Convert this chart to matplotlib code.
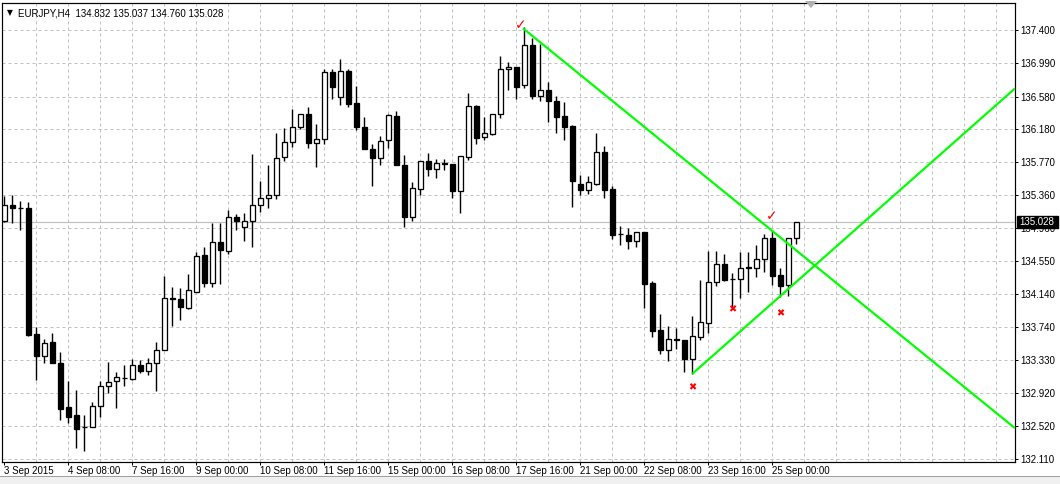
import matplotlib
matplotlib.use('Agg')
import matplotlib.pyplot as plt
from matplotlib.patches import Rectangle, Polygon
import numpy as np

# ---------------- data ----------------
opens = [135.05, 135.24, 135.21, 135.20, 133.65, 133.38, 133.55, 133.30, 132.75, 132.65,
         132.50, 132.50, 132.76, 133.01, 133.07, 133.11, 133.10, 133.27, 133.19, 133.30,
         133.46, 134.10, 134.08, 133.97, 134.17, 134.62, 134.28, 134.79, 134.68, 135.10,
         134.97, 135.04, 135.24, 135.33, 135.36, 135.83, 136.02, 136.21, 136.36, 136.01,
         136.05, 136.88, 136.58, 136.89, 136.50, 136.21, 135.93, 135.82, 136.04, 136.34,
         135.74, 135.10, 135.44, 135.79, 135.69, 135.75, 135.75, 135.41, 135.84, 136.46,
         136.08, 136.12, 136.36, 136.92, 136.94, 136.72, 137.21, 136.59, 136.66, 136.52,
         136.34, 136.22, 135.50, 135.43, 135.50, 135.89, 135.44, 134.88, 134.87, 134.80,
         134.91, 134.28, 133.70, 133.45, 133.58, 133.58, 133.34, 133.62, 133.79, 134.29,
         134.52, 134.33, 134.33, 134.47, 134.47, 134.58, 134.83, 134.38, 134.25, 134.832]
highs = [135.35, 135.37, 135.29, 135.28, 133.74, 133.59, 133.66, 133.43, 133.07, 132.96,
         132.65, 132.81, 133.07, 133.31, 133.18, 133.27, 133.34, 133.33, 133.36, 133.55,
         134.37, 134.23, 134.22, 134.39, 134.66, 134.72, 135.02, 135.02, 135.18, 135.13,
         135.14, 135.87, 135.54, 135.74, 136.13, 136.19, 136.43, 136.36, 136.45, 136.24,
         136.92, 136.92, 137.04, 136.92, 136.71, 136.33, 135.99, 136.09, 136.37, 136.40,
         135.86, 135.52, 135.79, 135.88, 135.81, 135.81, 135.75, 135.85, 136.62, 136.48,
         136.33, 136.36, 137.08, 137.00, 136.94, 137.44, 137.30, 137.23, 136.76, 136.59,
         136.51, 136.23, 135.61, 135.60, 136.13, 135.97, 135.48, 134.98, 134.96, 134.91,
         134.91, 134.31, 133.90, 133.75, 133.72, 133.58, 133.87, 134.32, 134.68, 134.68,
         134.64, 134.40, 134.66, 134.66, 134.75, 134.88, 134.94, 134.46, 134.84, 135.037]
lows = [135.03, 135.02, 134.94, 133.63, 133.09, 133.30, 133.29, 132.59, 132.55, 132.24,
        132.21, 132.50, 132.63, 132.93, 132.74, 133.01, 133.09, 133.17, 133.15, 132.95,
        133.45, 133.75, 133.82, 133.96, 134.17, 134.23, 134.23, 134.27, 134.64, 134.93,
        134.80, 134.73, 135.15, 135.20, 135.32, 135.79, 135.96, 136.18, 135.94, 135.71,
        136.00, 136.55, 136.47, 136.45, 136.17, 135.93, 135.48, 135.73, 135.95, 135.74,
        134.97, 135.04, 135.36, 135.60, 135.57, 135.67, 135.33, 135.14, 135.80, 135.99,
        136.04, 136.10, 136.31, 136.66, 136.55, 136.68, 136.55, 136.53, 136.26, 136.13,
        136.04, 135.22, 135.36, 135.38, 135.49, 135.33, 134.82, 134.75, 134.70, 134.72,
        133.97, 133.62, 133.41, 133.32, 133.47, 133.18, 133.16, 133.58, 133.67, 134.24,
        134.30, 133.98, 134.10, 134.17, 134.36, 134.42, 134.25, 134.11, 134.12, 134.760]
closes = [135.24, 135.21, 135.20, 133.64, 133.38, 133.54, 133.29, 132.73, 132.63, 132.48,
          132.50, 132.76, 133.01, 133.06, 133.12, 133.11, 133.27, 133.19, 133.30, 133.46,
          134.10, 134.08, 133.98, 134.19, 134.61, 134.28, 134.79, 134.69, 135.10, 135.05,
          135.05, 135.24, 135.33, 135.36, 135.82, 136.02, 136.21, 136.36, 136.01, 136.05,
          136.88, 136.70, 136.89, 136.49, 136.21, 135.93, 135.82, 136.03, 136.35, 135.74,
          135.10, 135.45, 135.79, 135.69, 135.76, 135.75, 135.41, 135.85, 136.46, 136.07,
          136.13, 136.36, 136.92, 136.94, 136.70, 137.21, 136.59, 136.66, 136.52, 136.33,
          136.21, 135.54, 135.43, 135.52, 135.89, 135.43, 134.87, 134.88, 134.80, 134.91,
          134.27, 133.69, 133.45, 133.59, 133.58, 133.34, 133.63, 133.80, 134.29, 134.52,
          134.32, 134.33, 134.46, 134.47, 134.58, 134.83, 134.37, 134.24, 134.83, 135.028]

x_tick_pos = [0, 8, 16, 24, 32, 40, 48, 56, 64, 72, 80, 88, 96]
x_tick_labels = ['3 Sep 2015', '4 Sep 08:00', '7 Sep 16:00', '9 Sep 00:00', '10 Sep 08:00',
                 '11 Sep 16:00', '15 Sep 00:00', '16 Sep 08:00', '17 Sep 16:00', '21 Sep 00:00',
                 '22 Sep 08:00', '23 Sep 16:00', '25 Sep 00:00']
y_ticks = [132.110, 132.520, 132.920, 133.330, 133.740, 134.140, 134.550, 134.960,
           135.360, 135.770, 136.180, 136.580, 136.990, 137.400]

symbol = 'EURJPY,H4'
last_price = 135.028

trend_down_x = [64.85, 126.34]
trend_down_y = [137.42, 132.49]
trend_up_x = [86.0, 126.34]
trend_up_y = [133.16, 136.68]
check_x = [64.6, 95.9]
check_y = [137.46, 135.10]
cross_x = [85.96, 90.96, 96.96]
cross_y = [132.99, 133.95, 133.91]

# ---------------- figure ----------------
W, H = 1060, 484
fig = plt.figure(figsize=(W / 100, H / 100), dpi=100)
fig.patch.set_facecolor('white')
FONT = ['Liberation Sans', 'DejaVu Sans']
FS = 7.0
PX = 0.72  # one pixel in points

ax_l, ax_r, ax_t, ax_b = 2, 1015, 3, 462
ax = fig.add_axes([ax_l / W, (H - ax_b) / H, (ax_r - ax_l) / W, (ax_b - ax_t) / H])
ax.set_facecolor('white')

# pixel -> data mapping
step = 8.0
x0 = 4.3
ppu = 81.1  # pixels per price unit
ax.set_xlim((ax_l - x0) / step, (ax_r - x0) / step)
ax.set_ylim(137.4 - (ax_b - 30) / ppu, 137.4 - (ax_t - 30) / ppu)

# grid
for gx in np.arange(4, 127, 4):
    ax.axvline(gx, color='#c0c0c0', lw=PX, ls=(0, (3, 3)), zorder=0)
for gy in y_ticks:
    ax.axhline(gy, color='#c0c0c0', lw=PX, ls=(0, (3, 3)), zorder=0)

# bid line
ax.axhline(last_price, color='#c0c0c0', lw=PX * 1.2, zorder=1)

# candles
bw = 0.56
for i, (o, h, l, c) in enumerate(zip(opens, highs, lows, closes)):
    ax.plot([i, i], [l, h], color='black', lw=PX * 1.4, zorder=2, solid_capstyle='butt')
    bottom = min(o, c)
    height = max(abs(c - o), 0.004)
    face = 'white' if c >= o else 'black'
    ax.add_patch(Rectangle((i - bw / 2, bottom), bw, height, facecolor=face,
                           edgecolor='black', lw=PX * 1.3, zorder=3))

# trend lines
ax.plot(trend_down_x, trend_down_y, color='#00ff00', lw=PX * 2.2, zorder=4,
        solid_capstyle='butt')
ax.plot(trend_up_x, trend_up_y, color='#00ff00', lw=PX * 2.2, zorder=4,
        solid_capstyle='butt')

# markers
for xx, yy in zip(check_x, check_y):
    ax.text(xx, yy, '\u2713', color='red', fontsize=10, ha='center', va='center',
            family=['DejaVu Sans'], zorder=5)
for xx, yy in zip(cross_x, cross_y):
    ax.text(xx, yy, '\u2716', color='red', fontsize=7, ha='center', va='center',
            family=['DejaVu Sans'], zorder=5)

# axes styling
for s in ax.spines.values():
    s.set_color('black')
    s.set_linewidth(PX * 1.2)
ax.yaxis.tick_right()
ax.set_yticks(y_ticks)
ax.set_yticklabels(['%.3f' % v for v in y_ticks])
ax.tick_params(axis='y', direction='out', length=3 * PX, width=PX, pad=2.5 * PX,
               labelsize=FS, colors='black')
ax.set_xticks(x_tick_pos)
ax.set_xticklabels(x_tick_labels)
ax.tick_params(axis='x', direction='out', length=3 * PX, width=PX, pad=1.5 * PX,
               labelsize=FS, colors='black')
for lab in ax.get_xticklabels():
    lab.set_horizontalalignment('left')
    lab.set_family(FONT)
for lab in ax.get_yticklabels():
    lab.set_family(FONT)

# header text
fig.text(7 / W, 1 - 13 / H, '\u25bc', fontsize=5.5, family=['DejaVu Sans'],
         va='center', ha='left', color='black')
fig.text(18 / W, 1 - 13 / H, '%s  %.3f %.3f %.3f %.3f' % (symbol, opens[-1], highs[-1], lows[-1], closes[-1]),
         fontsize=FS, family=FONT, va='center', ha='left', color='black')

# bid price label box on the axis
fig.patches.append(Rectangle((1017 / W, 1 - 228 / H), 41 / W, 12 / H, transform=fig.transFigure,
                             facecolor='black', edgecolor='black', zorder=10))
fig.text(1019 / W, 1 - 222 / H, '%.3f' % last_price, fontsize=FS, family=FONT, color='white',
         va='center', ha='left', zorder=11)

# chart-shift marker
fig.patches.append(Polygon([[805 / W, 1 - 1 / H], [817 / W, 1 - 1 / H], [811 / W, 1 - 8 / H]],
                           closed=True, transform=fig.transFigure, facecolor='#b0b0b0',
                           edgecolor='none', zorder=10))

# bottom window strip
fig.patches.append(Rectangle((0, 0), 1, 8 / H, transform=fig.transFigure,
                             facecolor='#f0f0f0', edgecolor='none', zorder=1))
fig.add_artist(plt.Line2D([0, 1], [8 / H, 8 / H], color='#a0a0a0', lw=PX,
                          transform=fig.transFigure))

fig.savefig('out.png', dpi=100, facecolor='white')
